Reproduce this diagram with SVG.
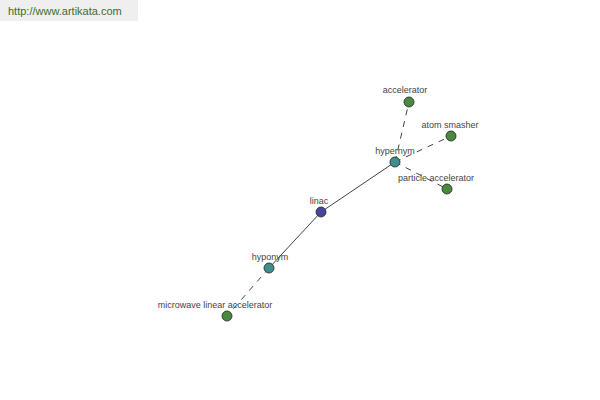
<svg xmlns="http://www.w3.org/2000/svg" width="600" height="400" viewBox="0 0 600 400">
<style>
.lbl{font-family:"Liberation Sans",Arial,sans-serif;font-size:9px;fill:#444;text-anchor:middle}
.n{stroke:#222;stroke-width:0.8}
.g{fill:#4a8a3e}
.t{fill:#3f8e8e}
.b{fill:#46479a}
.e{stroke:#111;stroke-width:0.8;fill:none}
.d{stroke-dasharray:6,6}
</style>
<rect x="0" y="0" width="138" height="21" fill="#efefef"/>
<text x="8" y="15" font-family="'Liberation Sans',Arial,sans-serif" font-size="11" fill="#3d6b2e">http://www.artikata.com</text>
<g id="connectors">
<line class="e" x1="395" y1="162" x2="321" y2="212"/>
<line class="e" x1="321" y1="212" x2="269" y2="268"/>
<line class="e d" x1="395" y1="162" x2="409" y2="102"/>
<line class="e d" x1="395" y1="162" x2="451" y2="136"/>
<line class="e d" x1="395" y1="162" x2="447" y2="189"/>
<line class="e d" x1="269" y1="268" x2="227" y2="316"/>
</g>
<g id="accelerator"><circle class="n g" cx="409" cy="102" r="5"/><text class="lbl" x="405" y="93">accelerator</text></g>
<g id="atom-smasher"><circle class="n g" cx="451" cy="136" r="5"/><text class="lbl" x="450" y="128">atom smasher</text></g>
<g id="particle-accelerator"><circle class="n g" cx="447" cy="189" r="5"/><text class="lbl" x="436" y="181">particle accelerator</text></g>
<g id="hypernym"><circle class="n t" cx="395" cy="162" r="5"/><text class="lbl" x="395" y="154">hypernym</text></g>
<g id="linac"><circle class="n b" cx="321" cy="212" r="5"/><text class="lbl" x="319" y="204">linac</text></g>
<g id="hyponym"><circle class="n t" cx="269" cy="268" r="5"/><text class="lbl" x="270" y="260">hyponym</text></g>
<g id="microwave-linear-accelerator"><circle class="n g" cx="227" cy="316" r="5"/><text class="lbl" x="215" y="308">microwave linear accelerator</text></g>
</svg>
